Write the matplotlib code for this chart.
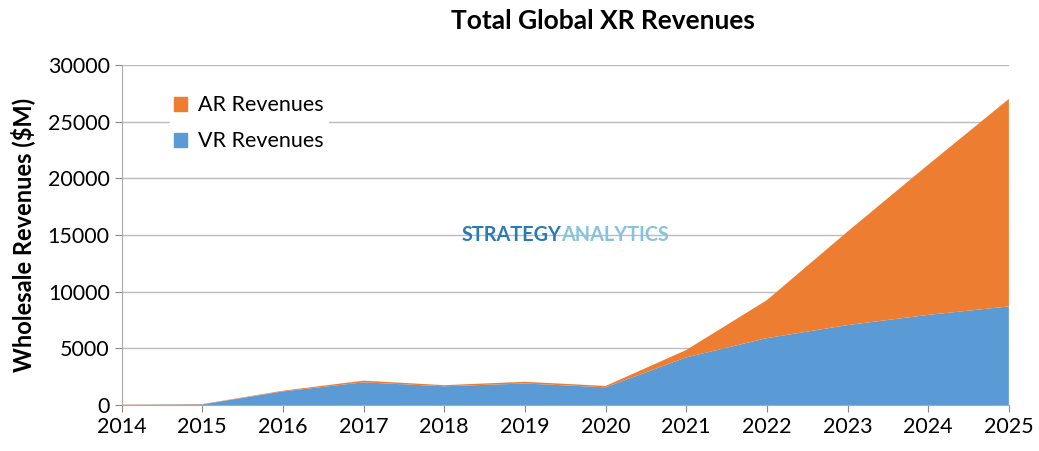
import matplotlib
matplotlib.use("Agg")
from matplotlib import pyplot as plt
from matplotlib.patches import Patch

# dados ($M)
anos = [2014, 2015, 2016, 2017, 2018, 2019, 2020, 2021, 2022, 2023, 2024, 2025]
vr = [0, 50, 1200, 2000, 1650, 1900, 1560, 4200, 5900, 7050, 7950, 8700]
ar = [20, 30, 60, 150, 100, 150, 120, 650, 3350, 8250, 13250, 18300]

plt.rcParams['font.family'] = ['Lato', 'DejaVu Sans']

fig = plt.figure(figsize=(10.39, 4.51), dpi=100)
ax = fig.add_axes([0.117, 0.102, 0.854, 0.754])

ax.stackplot(anos, vr, ar, colors=['#5b9bd5', '#ed7d31'], linewidth=0)

ax.set_xlim(2014, 2025)
ax.set_ylim(0, 30000)
ax.set_xticks(anos)
ax.set_yticks(range(0, 30001, 5000))
ax.tick_params(labelsize=15.5, colors='#888888', labelcolor='black', length=5)
ax.yaxis.grid(True, color='#bbbbbb', linewidth=1)
ax.set_axisbelow(True)
for s in ['top', 'right']:
    ax.spines[s].set_visible(False)
for s in ['left', 'bottom']:
    ax.spines[s].set_color('#aaaaaa')

ax.set_ylabel('Wholesale Revenues ($M)', fontsize=17, fontweight='bold', labelpad=9)
fig.suptitle('Total Global XR Revenues', fontsize=19, fontweight='bold', x=0.58, y=0.98)

handles = [Patch(color='#ed7d31'), Patch(color='#5b9bd5')]
leg = ax.legend(handles, ['AR Revenues', 'VR Revenues'], loc='upper left',
                bbox_to_anchor=(0.042, 0.955), frameon=True, fontsize=15.5,
                handlelength=0.6, handleheight=0.6, handletextpad=0.5,
                labelspacing=0.75, borderpad=0.2)
leg.get_frame().set_edgecolor('white')
leg.get_frame().set_facecolor('white')
leg.get_frame().set_alpha(1)

# marca d'agua
t1 = ax.text(0.383, 0.50, 'STRATEGY', transform=ax.transAxes, fontsize=14.3,
             fontweight='bold', color='#2a7ab5', va='center')
fig.canvas.draw()
bb = t1.get_window_extent().transformed(ax.transAxes.inverted())
ax.text(bb.x1, 0.50, 'ANALYTICS', transform=ax.transAxes, fontsize=14.3,
        fontweight='bold', color='#86c3dc', va='center')

fig.savefig('out.png', dpi=100)
